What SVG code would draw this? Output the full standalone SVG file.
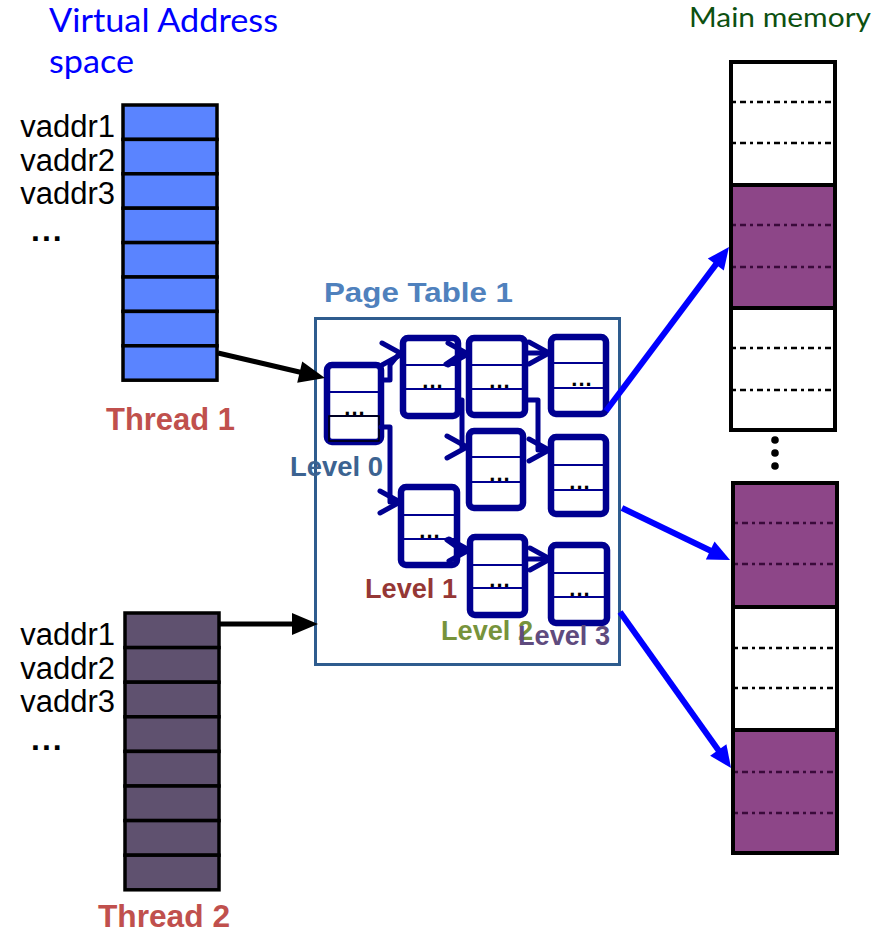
<svg xmlns="http://www.w3.org/2000/svg" width="877" height="934" viewBox="0 0 877 934">
<style>
.sans{font-family:"Liberation Sans",Arial,sans-serif}
.cal{font-family:Lato,"Open Sans",sans-serif}
.lbl{font-family:"Liberation Sans",Arial,sans-serif;font-size:31px;fill:#000;text-anchor:end}
.ell{font-family:"Liberation Sans",Arial,sans-serif;font-size:32px;font-weight:bold;fill:#000;letter-spacing:2px}
.thr{font-family:"Liberation Sans",Arial,sans-serif;font-size:31px;font-weight:bold;fill:#C0504D}
.lev{font-family:"Liberation Sans",Arial,sans-serif;font-size:27px;font-weight:bold}
.row1{fill:#5A84FF;stroke:#000;stroke-width:3.5}
.row2{fill:#5F516F;stroke:#000;stroke-width:3.5}
.nbox{fill:#fff;stroke:#000090;stroke-width:6.5}
.nline{stroke:#000090;stroke-width:1.8}
.ndots{font-family:"Liberation Sans",Arial,sans-serif;font-size:22px;font-weight:bold;fill:#000;text-anchor:middle;letter-spacing:1px}
.pt{fill:none;stroke:#000090;stroke-width:5;stroke-linejoin:round;stroke-linecap:round}
.blk{stroke:#000;stroke-width:4}
.white{fill:#fff}
.purp{fill:#8D4688}
.dw{stroke:#000;stroke-width:2.5;stroke-dasharray:3 4 6 4}
.dp{stroke:#3a0a3a;stroke-width:2.5;stroke-dasharray:3 4 6 4}
.blue{stroke:#0000FF;stroke-width:6;fill:none}
.black{stroke:#000;stroke-width:5;fill:none}
</style>
<defs>
<marker id="chev" markerUnits="userSpaceOnUse" markerWidth="30" markerHeight="30" refX="22" refY="12" orient="auto" overflow="visible">
<path d="M2,1 L22,12 L2,23" fill="none" stroke="#000090" stroke-width="5" stroke-linecap="round" stroke-linejoin="round"/>
</marker>
<marker id="ahBlue" markerUnits="userSpaceOnUse" markerWidth="30" markerHeight="30" refX="4" refY="10" orient="auto" overflow="visible">
<path d="M0,0 L22,10 L0,20 z" fill="#0000FF"/>
</marker>
<marker id="ahBlack" markerUnits="userSpaceOnUse" markerWidth="30" markerHeight="30" refX="4" refY="11" orient="auto" overflow="visible">
<path d="M0,0 L26,11 L0,22 z" fill="#000"/>
</marker>
</defs>
<rect width="877" height="934" fill="#fff"/>

<!-- Titles -->
<text class="cal" x="49" y="32" font-size="32" fill="#0000FF" textLength="229" lengthAdjust="spacingAndGlyphs">Virtual Address</text>
<text class="cal" x="49" y="73" font-size="32" fill="#0000FF" textLength="85" lengthAdjust="spacingAndGlyphs">space</text>
<text class="cal" x="689" y="27" font-size="27" fill="#0d5010" textLength="182" lengthAdjust="spacingAndGlyphs">Main memory</text>

<!-- Thread 1 stack -->
<g id="thread1">
<rect class="row1" x="123" y="105" width="94" height="34.4"/>
<rect class="row1" x="123" y="139.4" width="94" height="34.4"/>
<rect class="row1" x="123" y="173.8" width="94" height="34.4"/>
<rect class="row1" x="123" y="208.2" width="94" height="34.4"/>
<rect class="row1" x="123" y="242.6" width="94" height="34.4"/>
<rect class="row1" x="123" y="277" width="94" height="34.4"/>
<rect class="row1" x="123" y="311.4" width="94" height="34.4"/>
<rect class="row1" x="123" y="345.8" width="94" height="34.4"/>
<text class="lbl" x="115" y="137">vaddr1</text>
<text class="lbl" x="115" y="171">vaddr2</text>
<text class="lbl" x="115" y="204">vaddr3</text>
<text class="ell" x="31" y="241">...</text>
<text class="thr" x="106" y="430" textLength="129" lengthAdjust="spacingAndGlyphs">Thread 1</text>
</g>

<!-- Thread 2 stack -->
<g id="thread2">
<rect class="row2" x="125" y="613" width="94" height="34.6"/>
<rect class="row2" x="125" y="647.6" width="94" height="34.6"/>
<rect class="row2" x="125" y="682.2" width="94" height="34.6"/>
<rect class="row2" x="125" y="716.8" width="94" height="34.6"/>
<rect class="row2" x="125" y="751.4" width="94" height="34.6"/>
<rect class="row2" x="125" y="786" width="94" height="34.6"/>
<rect class="row2" x="125" y="820.6" width="94" height="34.6"/>
<rect class="row2" x="125" y="855.2" width="94" height="34.6"/>
<text class="lbl" x="115" y="645">vaddr1</text>
<text class="lbl" x="115" y="679">vaddr2</text>
<text class="lbl" x="115" y="712">vaddr3</text>
<text class="ell" x="31" y="750">...</text>
<text class="thr" x="98" y="927" textLength="132" lengthAdjust="spacingAndGlyphs">Thread 2</text>
</g>

<!-- Page table -->
<g id="pagetable">
<text class="sans" x="324" y="302" font-size="28" font-weight="bold" fill="#4F81BD" textLength="189" lengthAdjust="spacingAndGlyphs">Page Table 1</text>
<rect x="315.5" y="318.5" width="304" height="346" fill="#fff" stroke="#2E5C8E" stroke-width="3"/>
</g>

<g id="node-l0" transform="translate(327,365)">
<rect class="nbox" x="0" y="0" width="54" height="77" rx="5"/>
<line class="nline" x1="0" y1="27" x2="54" y2="27"/>
<line class="nline" x1="0" y1="51" x2="54" y2="51"/>
<rect x="2" y="51" width="50" height="25" fill="none" stroke="#000" stroke-width="1.5"/>
<text class="ndots" x="28" y="50">...</text>
</g>
<g id="node-l1a" transform="translate(403,338)">
<rect class="nbox" x="0" y="0" width="55" height="78" rx="5"/>
<line class="nline" x1="0" y1="27" x2="55" y2="27"/>
<line class="nline" x1="0" y1="51" x2="55" y2="51"/>
<text class="ndots" x="30" y="50">...</text>
</g>
<g id="node-l2a" transform="translate(469,338)">
<rect class="nbox" x="0" y="0" width="56" height="77" rx="5"/>
<line class="nline" x1="0" y1="27" x2="56" y2="27"/>
<line class="nline" x1="0" y1="51" x2="56" y2="51"/>
<text class="ndots" x="31" y="50">...</text>
</g>
<g id="node-l3a" transform="translate(551,337)">
<rect class="nbox" x="0" y="0" width="55" height="77" rx="5"/>
<line class="nline" x1="0" y1="26" x2="55" y2="26"/>
<line class="nline" x1="0" y1="51" x2="55" y2="51"/>
<text class="ndots" x="31" y="49">...</text>
</g>
<g id="node-l2b" transform="translate(469,431)">
<rect class="nbox" x="0" y="0" width="54" height="77" rx="5"/>
<line class="nline" x1="0" y1="26" x2="54" y2="26"/>
<line class="nline" x1="0" y1="51" x2="54" y2="51"/>
<text class="ndots" x="31" y="50">...</text>
</g>
<g id="node-l3b" transform="translate(551,437)">
<rect class="nbox" x="0" y="0" width="55" height="77" rx="5"/>
<line class="nline" x1="0" y1="28" x2="55" y2="28"/>
<line class="nline" x1="0" y1="53" x2="55" y2="53"/>
<text class="ndots" x="29" y="52">...</text>
</g>
<g id="node-l1b" transform="translate(401,487)">
<rect class="nbox" x="0" y="0" width="56" height="78" rx="5"/>
<line class="nline" x1="0" y1="28" x2="56" y2="28"/>
<line class="nline" x1="0" y1="52" x2="56" y2="52"/>
<text class="ndots" x="29" y="51">...</text>
</g>
<g id="node-l2c" transform="translate(470,537)">
<rect class="nbox" x="0" y="0" width="55" height="78" rx="5"/>
<line class="nline" x1="0" y1="28" x2="55" y2="28"/>
<line class="nline" x1="0" y1="51" x2="55" y2="51"/>
<text class="ndots" x="30" y="50">...</text>
</g>
<g id="node-l3c" transform="translate(551,545)">
<rect class="nbox" x="0" y="0" width="56" height="78" rx="5"/>
<line class="nline" x1="0" y1="28" x2="56" y2="28"/>
<line class="nline" x1="0" y1="52" x2="56" y2="52"/>
<text class="ndots" x="29" y="51">...</text>
</g>

<g id="levels">
<text class="lev" x="290" y="476" fill="#3C6391" textLength="93" lengthAdjust="spacingAndGlyphs">Level 0</text>
<text class="lev" x="365" y="598" fill="#953735" textLength="92" lengthAdjust="spacingAndGlyphs">Level 1</text>
<text class="lev" x="441" y="640" fill="#77933C" textLength="92" lengthAdjust="spacingAndGlyphs">Level 2</text>
<text class="lev" x="518" y="645" fill="#5F4B7E" textLength="92" lengthAdjust="spacingAndGlyphs">Level 3</text>
</g>

<!-- Main memory -->
<g id="memory1">
<rect class="blk white" x="731" y="62" width="104" height="123"/>
<rect class="blk purp" x="731" y="185" width="104" height="123"/>
<rect class="blk white" x="731" y="308" width="104" height="122"/>
<line class="dw" x1="733" y1="102" x2="833" y2="102"/>
<line class="dw" x1="733" y1="143" x2="833" y2="143"/>
<line class="dp" x1="733" y1="225" x2="833" y2="225"/>
<line class="dp" x1="733" y1="267" x2="833" y2="267"/>
<line class="dw" x1="733" y1="348" x2="833" y2="348"/>
<line class="dw" x1="733" y1="390" x2="833" y2="390"/>
</g>
<g id="memory-gap">
<circle cx="775" cy="440" r="3.8" fill="#000"/>
<circle cx="775" cy="453" r="3.8" fill="#000"/>
<circle cx="775" cy="466" r="3.8" fill="#000"/>
</g>
<g id="memory2">
<rect class="blk purp" x="733" y="483" width="104" height="124"/>
<rect class="blk white" x="733" y="607" width="104" height="123"/>
<rect class="blk purp" x="733" y="730" width="104" height="123"/>
<line class="dp" x1="735" y1="523" x2="835" y2="523"/>
<line class="dp" x1="735" y1="564" x2="835" y2="564"/>
<line class="dw" x1="735" y1="648" x2="835" y2="648"/>
<line class="dw" x1="735" y1="688" x2="835" y2="688"/>
<line class="dp" x1="735" y1="772" x2="835" y2="772"/>
<line class="dp" x1="735" y1="813" x2="835" y2="813"/>
</g>

<!-- Connectors -->
<g id="connectors">
<path class="pt" d="M381,380 H390 V365 L399,354 H402" marker-end="url(#chev)"/>
<path class="pt" d="M381,427 H390 V502 H400" marker-end="url(#chev)"/>
<path class="pt" d="M446,364 L461,354 H468" marker-end="url(#chev)"/>
<path class="pt" d="M458,400 H462 V447 H467" marker-end="url(#chev)"/>
<path class="pt" d="M525,353 H549" marker-end="url(#chev)"/>
<path class="pt" d="M525,400 H538 V450 H549" marker-end="url(#chev)"/>
<path class="pt" d="M447,540 L461,550 H469" marker-end="url(#chev)"/>
<path class="pt" d="M525,559 H550" marker-end="url(#chev)"/>
<path class="black" d="M218,353 L303.6,373" marker-end="url(#ahBlack)"/>
<path class="black" d="M220,624 H296" marker-end="url(#ahBlack)"/>
<path class="blue" d="M606,411 L718.2,261.4" marker-end="url(#ahBlue)"/>
<path class="blue" d="M622,508 L713.8,552.2" marker-end="url(#ahBlue)"/>
<path class="blue" d="M620,612 L720.6,753.3" marker-end="url(#ahBlue)"/>
</g>
</svg>
